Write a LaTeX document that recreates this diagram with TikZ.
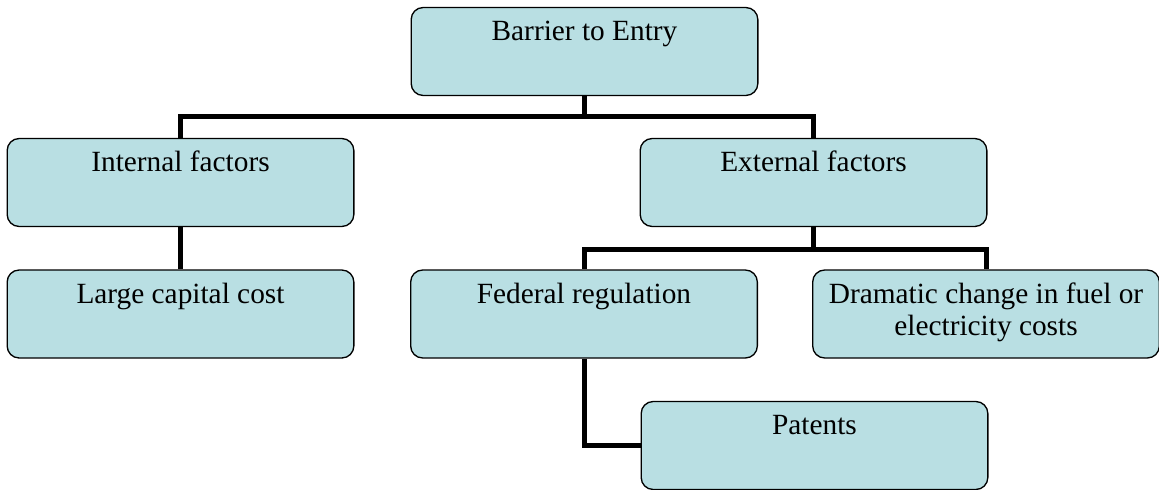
\documentclass[tikz,border=0pt]{standalone}
\usepackage{fontspec}
\setmainfont{Liberation Serif}
\definecolor{boxcyan}{HTML}{B9DFE3}
\tikzset{
	factor/.style={draw=black, line width=1pt, fill=boxcyan, rounded corners=9pt,
		minimum width=260pt, inner ysep=0pt, text height=24.75pt, text depth=41.25pt,
		font=\fontsize{22}{24}\selectfont},
	link/.style={line width=3.75pt},
}
\begin{document}
\begin{tikzpicture}[x=0.75pt, y=-0.75pt]
	\useasboundingbox (0, 0) rectangle (1159, 489);

	\node[factor] (barrier) at (584.5, 51.5) {Barrier to Entry};
	\node[factor] (internal) at (180.5, 182.5) {Internal factors};
	\node[factor] (external) at (813.5, 182.5) {External factors};
	\node[factor] (capital) at (180.5, 314) {Large capital cost};
	\node[factor] (federal) at (584, 314) {Federal regulation};
	\node[factor] (fuel) at (986, 314)
		{\begin{tabular}[t]{@{}c@{}}Dramatic change in fuel or\\electricity costs\end{tabular}};
	\node[factor] (patents) at (814.5, 445.5) {Patents};

	% links
	\draw[link] (barrier.south) -- ++(0, 20) -| (internal.north);
	\draw[link] (barrier.south) -- ++(0, 20) -| (external.north);
	\draw[link] (internal.south) -- (capital.north);
	\draw[link] (external.south) -- ++(0, 22) -| (federal.north);
	\draw[link] (external.south) -- ++(0, 22) -| (fuel.north);
	\draw[link] (federal.south) |- (patents.west);

\end{tikzpicture}
\end{document}
